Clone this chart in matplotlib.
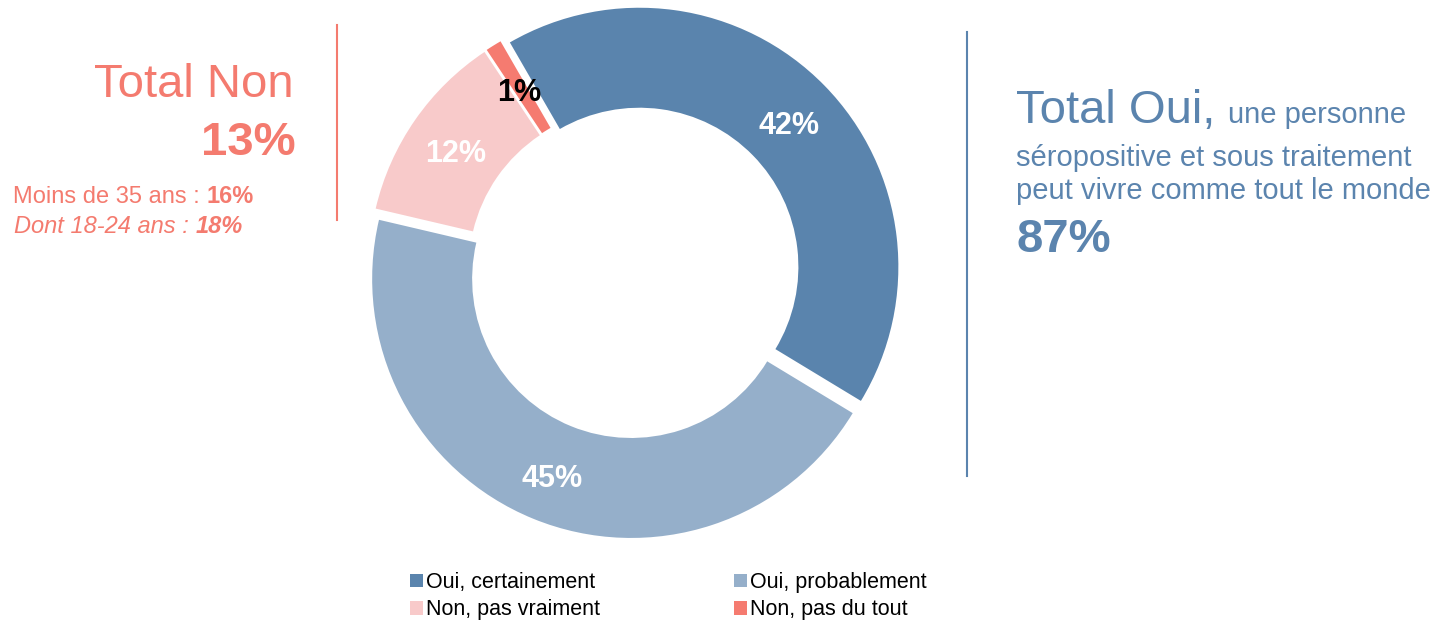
import matplotlib
matplotlib.use("Agg")
import matplotlib.pyplot as plt
from matplotlib.patches import Patch

plt.rcParams['font.family'] = ['Liberation Sans', 'DejaVu Sans']

# Données
categories = ["Oui, certainement", "Oui, probablement", "Non, pas vraiment", "Non, pas du tout"]
valeurs = [42, 45, 12, 1]
couleurs = ["#5A84AD", "#95AFCA", "#F8CACA", "#F57B70"]
couleurs_labels = ["white", "white", "white", "black"]

total_oui = 87
total_non = 13
moins_35 = 16
age_18_24 = 18

ROUGE = "#F47B6F"
BLEU = "#5B84AE"

W, H = 1437, 622
fig = plt.figure(figsize=(W / 100, H / 100), dpi=100)

# position du donut (pixels)
cx, cy, r = 634, 272, 259
ext = 1.1 * r
ax = fig.add_axes([(cx - ext) / W, (H - cy - ext) / H, 2 * ext / W, 2 * ext / H])

wedges, textes, autotextes = ax.pie(
    valeurs, colors=couleurs, startangle=120, counterclock=False,
    explode=[0.029] * len(valeurs),
    wedgeprops=dict(width=0.386, edgecolor="none"),
    autopct=lambda p: f"{p:.0f}%", pctdistance=0.81,
    textprops=dict(fontsize=22, fontweight="bold"))
for t, c in zip(autotextes, couleurs_labels):
    t.set_color(c)
    x, y = t.get_position()
    t.set_position((x, y - 0.022))
ax.set_xlim(-1.1, 1.1)
ax.set_ylim(-1.1, 1.1)
ax.set_aspect("equal")
ax.axis("off")


def px(x, y):
    return x / W, 1 - y / H


renderer = fig.canvas.get_renderer()


def suite(t, texte, **kw):
    # place un texte juste après un autre, sur la même ligne de base
    bb = t.get_window_extent(renderer)
    x0, y0 = t.get_position()
    return fig.text(bb.x1 / W, y0, texte, va="baseline", **kw)


# bloc gauche
fig.text(*px(294, 97), "Total Non", fontsize=34, color=ROUGE, ha="right", va="baseline")
fig.text(*px(296, 155), f"{total_non}%", fontsize=34, color=ROUGE, ha="right", va="baseline",
         fontweight="bold")
t1 = fig.text(*px(13, 203), "Moins de 35 ans : ", fontsize=17, color=ROUGE, va="baseline")
suite(t1, f"{moins_35}%", fontsize=17, color=ROUGE, fontweight="bold")
t2 = fig.text(*px(14, 233), "Dont 18-24 ans : ", fontsize=17, color=ROUGE, va="baseline",
              style="italic")
suite(t2, f"{age_18_24}%", fontsize=17, color=ROUGE, style="italic", fontweight="bold")
fig.add_artist(plt.Line2D([337 / W, 337 / W], [1 - 25 / H, 1 - 220 / H], color=ROUGE, lw=1.5))

# bloc droit
t3 = fig.text(*px(1016, 123), "Total Oui, ", fontsize=34, color=BLEU, va="baseline")
suite(t3, "une personne", fontsize=21, color=BLEU)
fig.text(*px(1016, 166), "séropositive et sous traitement", fontsize=21, color=BLEU, va="baseline")
fig.text(*px(1016, 199), "peut vivre comme tout le monde", fontsize=21, color=BLEU, va="baseline")
fig.text(*px(1016, 252), f"{total_oui}%", fontsize=34, color=BLEU, va="baseline", fontweight="bold")
fig.add_artist(plt.Line2D([967 / W, 967 / W], [1 - 32 / H, 1 - 476 / H], color=BLEU, lw=1.5))

# légende
ordre = [0, 2, 1, 3]
handles = [Patch(facecolor=couleurs[i], edgecolor="none") for i in ordre]
labels = [categories[i] for i in ordre]
fig.legend(handles, labels, loc="upper left", bbox_to_anchor=px(410, 572), ncol=2,
           frameon=False, fontsize=15.5, handlelength=0.6, handleheight=0.6,
           handletextpad=0.15, columnspacing=6.2, labelspacing=0.3,
           borderpad=0, borderaxespad=0)

fig.savefig("out.png", dpi=100)
